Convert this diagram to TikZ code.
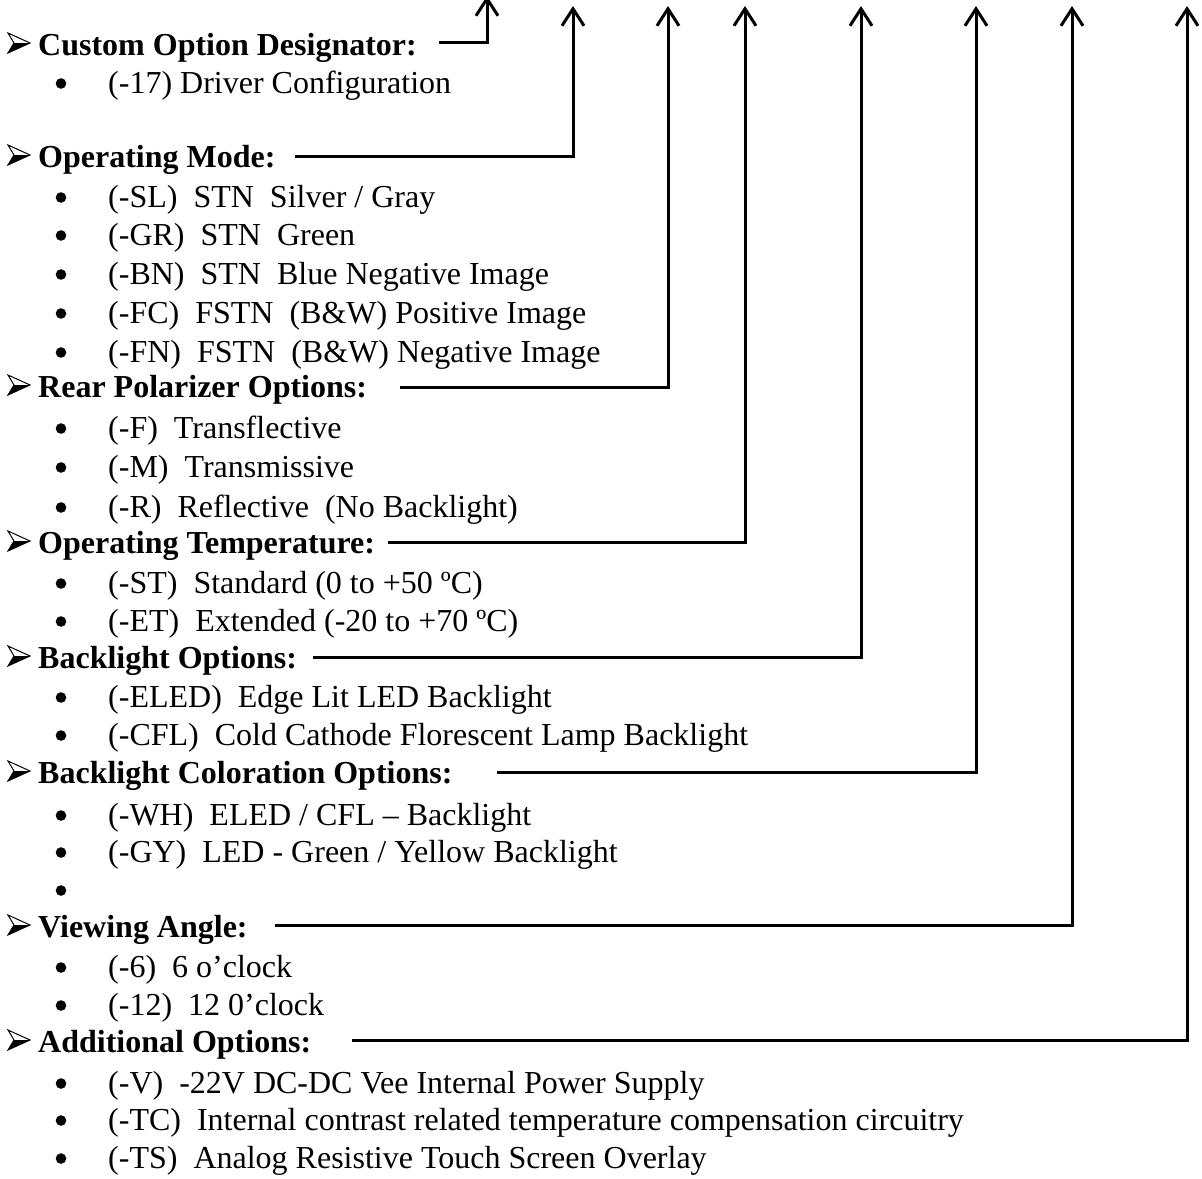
\documentclass[tikz,border=0pt]{standalone}
\usepackage{fontspec}
\setmainfont{Liberation Serif}
\usetikzlibrary{arrows.meta}
\tikzset{
  hdr/.style={anchor=base west,inner sep=0pt,font=\fontsize{32}{38}\selectfont\bfseries},
  itm/.style={anchor=base west,inner sep=0pt,font=\fontsize{32}{38}\selectfont},
  bul/.style={circle,fill=black,inner sep=0pt,minimum size=10.6pt},
  conn/.style={line width=3pt,-{Straight Barb[length=17pt,width=22pt,line width=3pt]}},
  hmark/.pic={
    \draw[line width=1pt,line join=miter] (8,-22) -- (30,-12) -- (8,-2) -- (14,-12) -- cycle;
    \fill (14,-12) -- (30,-12) -- (8,-2) -- cycle;
  }
}
\begin{document}
\begin{tikzpicture}[x=1pt,y=-1pt]
\useasboundingbox (0,0) rectangle (1202,1178);
% ---------------- headers ----------------
\pic at (0,55) {hmark};
\node[hdr] (h1) at (38,55) {Custom Option Designator:};
\node[bul] (b11) at (61,83.5) {};
\node[itm] (i11) at (108,93) {(-17) Driver Configuration};

\pic at (0,167) {hmark};
\node[hdr] (h2) at (38,167) {Operating Mode:};
\node[bul] (b21) at (61,197.5) {};
\node[itm] (i21) at (108,207) {(-SL)~~STN~~Silver / Gray};
\node[bul] (b22) at (61,235.5) {};
\node[itm] (i22) at (108,245) {(-GR)~~STN~~Green};
\node[bul] (b23) at (61,274.5) {};
\node[itm] (i23) at (108,284) {(-BN)~~STN~~Blue Negative Image};
\node[bul] (b24) at (61,313.5) {};
\node[itm] (i24) at (108,323) {(-FC)~~FSTN~~(B\&W) Positive Image};
\node[bul] (b25) at (61,352.5) {};
\node[itm] (i25) at (108,362) {(-FN)~~FSTN~~(B\&W) Negative Image};

\pic at (0,397) {hmark};
\node[hdr] (h3) at (38,397) {Rear Polarizer Options:};
\node[bul] (b31) at (61,428.5) {};
\node[itm] (i31) at (108,438) {(-F)~~Transflective};
\node[bul] (b32) at (61,467.5) {};
\node[itm] (i32) at (108,477) {(-M)~~Transmissive};
\node[bul] (b33) at (61,507.5) {};
\node[itm] (i33) at (108,517) {(-R)~~Reflective~~(No Backlight)};

\pic at (0,553) {hmark};
\node[hdr] (h4) at (38,553) {Operating Temperature:};
\node[bul] (b41) at (61,583.5) {};
\node[itm] (i41) at (108,593) {(-ST)~~Standard (0 to +50 ºC)};
\node[bul] (b42) at (61,621.5) {};
\node[itm] (i42) at (108,631) {(-ET)~~Extended (-20 to +70 ºC)};

\pic at (0,668) {hmark};
\node[hdr] (h5) at (38,668) {Backlight Options:};
\node[bul] (b51) at (61,697.5) {};
\node[itm] (i51) at (108,707) {(-ELED)~~Edge Lit LED Backlight};
\node[bul] (b52) at (61,735.5) {};
\node[itm] (i52) at (108,745) {(-CFL)~~Cold Cathode Florescent Lamp Backlight};

\pic at (0,783) {hmark};
\node[hdr] (h6) at (38,783) {Backlight Coloration Options:};
\node[bul] (b61) at (61,815.5) {};
\node[itm] (i61) at (108,825) {(-WH)~~ELED / CFL – Backlight};
\node[bul] (b62) at (61,852.5) {};
\node[itm] (i62) at (108,862) {(-GY)~~LED - Green / Yellow Backlight};
\node[bul] (b63) at (61,890.5) {};

\pic at (0,937) {hmark};
\node[hdr] (h7) at (38,937) {Viewing Angle:};
\node[bul] (b71) at (61,967.5) {};
\node[itm] (i71) at (108,977) {(-6)~~6 o’clock};
\node[bul] (b72) at (61,1005.5) {};
\node[itm] (i72) at (108,1015) {(-12)~~12 0’clock};

\pic at (0,1052) {hmark};
\node[hdr] (h8) at (38,1052) {Additional Options:};
\node[bul] (b81) at (61,1083.5) {};
\node[itm] (i81) at (108,1093) {(-V)~~-22V DC-DC Vee Internal Power Supply};
\node[bul] (b82) at (61,1120.5) {};
\node[itm] (i82) at (108,1130) {(-TC)~~Internal contrast related temperature compensation circuitry};
\node[bul] (b83) at (61,1158.5) {};
\node[itm] (i83) at (108,1168) {(-TS)~~Analog Resistive Touch Screen Overlay};

% ---------------- connectors ----------------
\coordinate (s1) at (439,42);   \coordinate (t1) at (487,-4);
\coordinate (s2) at (295,156);  \coordinate (t2) at (573,6);
\coordinate (s3) at (400,387);  \coordinate (t3) at (668,6);
\coordinate (s4) at (388,542);  \coordinate (t4) at (745,6);
\coordinate (s5) at (313,657);  \coordinate (t5) at (861,6);
\coordinate (s6) at (497,772);  \coordinate (t6) at (976,6);
\coordinate (s7) at (275,925);  \coordinate (t7) at (1072,6);
\coordinate (s8) at (352,1040); \coordinate (t8) at (1187,6);
\foreach \k in {1,...,8}{
  \draw[conn] (s\k) -| (t\k);
}
\end{tikzpicture}
\end{document}
